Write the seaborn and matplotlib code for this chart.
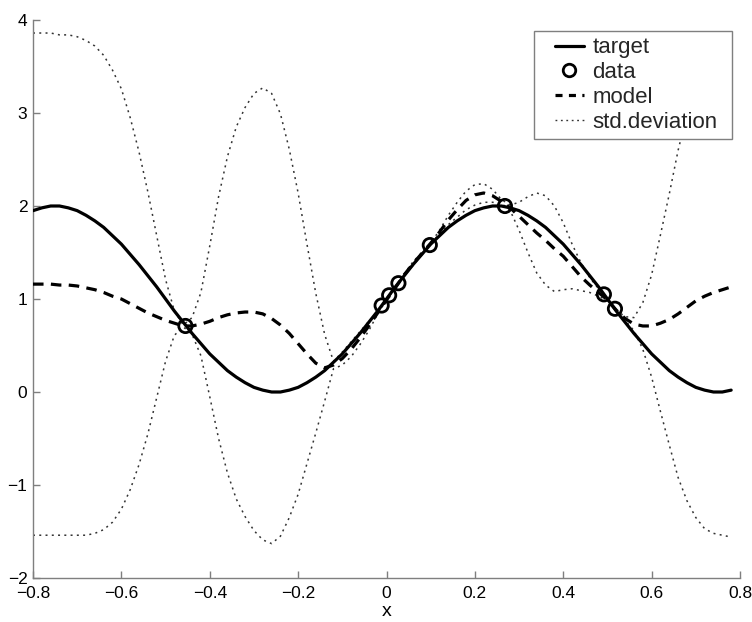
import numpy as np
import pandas as pd
import matplotlib
matplotlib.use("Agg")
import matplotlib.pyplot as plt
import seaborn as sns
from matplotlib.lines import Line2D
from matplotlib.legend_handler import HandlerLine2D

# ---------------- data ----------------
x_grid = np.linspace(-0.80, 0.78, 80)

target = [1.95, 1.98, 2.00, 2.00, 1.98, 1.95, 1.90, 1.84, 1.77, 1.68,
          1.59, 1.48, 1.37, 1.25, 1.13, 1.00, 0.87, 0.75, 0.63, 0.52,
          0.41, 0.32, 0.23, 0.16, 0.10, 0.05, 0.02, 0.00, 0.00, 0.02,
          0.05, 0.10, 0.16, 0.23, 0.32, 0.41, 0.52, 0.63, 0.75, 0.87,
          1.00, 1.13, 1.25, 1.37, 1.48, 1.59, 1.68, 1.77, 1.84, 1.90,
          1.95, 1.98, 2.00, 2.00, 1.98, 1.95, 1.90, 1.84, 1.77, 1.68,
          1.59, 1.48, 1.37, 1.25, 1.13, 1.00, 0.87, 0.75, 0.63, 0.52,
          0.41, 0.32, 0.23, 0.16, 0.10, 0.05, 0.02, 0.00, 0.00, 0.02]

model = [1.16, 1.16, 1.16, 1.15, 1.15, 1.14, 1.12, 1.10, 1.07, 1.03,
         1.00, 0.95, 0.90, 0.85, 0.81, 0.77, 0.74, 0.71, 0.71, 0.73,
         0.76, 0.80, 0.83, 0.85, 0.86, 0.86, 0.84, 0.79, 0.72, 0.63,
         0.52, 0.41, 0.31, 0.26, 0.29, 0.36, 0.46, 0.58, 0.71, 0.85,
         0.99, 1.12, 1.26, 1.38, 1.49, 1.60, 1.72, 1.85, 1.96, 2.06,
         2.12, 2.14, 2.11, 2.05, 1.98, 1.89, 1.80, 1.71, 1.63, 1.54,
         1.46, 1.35, 1.24, 1.15, 1.07, 0.99, 0.88, 0.79, 0.73, 0.71,
         0.71, 0.74, 0.78, 0.84, 0.91, 0.98, 1.03, 1.07, 1.10, 1.13]

# width of the std.deviation band (distance of each dotted curve from the model)
std_dev = [2.70, 2.70, 2.70, 2.69, 2.69, 2.68, 2.66, 2.62, 2.55, 2.43,
           2.26, 2.00, 1.68, 1.30, 0.87, 0.44, 0.13, 0.01, 0.09, 0.34,
           0.81, 1.30, 1.70, 2.00, 2.20, 2.35, 2.43, 2.42, 2.27, 1.98,
           1.62, 1.18, 0.75, 0.36, 0.04, 0.07, 0.08, 0.07, 0.05, 0.01,
           0.00, 0.00, 0.01, 0.02, 0.01, 0.00, 0.02, 0.05, 0.08, 0.10,
           0.11, 0.10, 0.07, 0.02, 0.03, 0.15, 0.30, 0.43, 0.48, 0.46,
           0.36, 0.24, 0.15, 0.08, 0.04, 0.01, 0.00, 0.02, 0.07, 0.25,
           0.55, 0.95, 1.35, 1.76, 2.08, 2.33, 2.50, 2.59, 2.64, 2.69]

data_x = [-0.455, -0.011, 0.006, 0.027, 0.098, 0.268, 0.492, 0.517]
data_y = [0.71, 0.93, 1.04, 1.17, 1.58, 2.00, 1.05, 0.895]

x_ticks = [-0.8, -0.6, -0.4, -0.2, 0, 0.2, 0.4, 0.6, 0.8]
x_tick_labels = ["\u22120.8", "\u22120.6", "\u22120.4", "\u22120.2", "0", "0.2", "0.4", "0.6", "0.8"]
y_ticks = [-2, -1, 0, 1, 2, 3, 4]
y_tick_labels = ["\u22122", "\u22121", "0", "1", "2", "3", "4"]
legend_labels = ["target", "data", "model", "std.deviation"]

df = pd.DataFrame({"x": x_grid, "target": target, "model": model, "sd": std_dev})
df["upper"] = df["model"] + df["sd"]
df["lower"] = df["model"] - df["sd"]

# ---------------- style ----------------
sns.set_theme(style="ticks")
plt.rcParams['font.family'] = ['Liberation Sans', 'DejaVu Sans']

fig = plt.figure(figsize=(7.52, 6.22), dpi=100)
ax = fig.add_axes([33 / 752, 1 - 578 / 622, 707 / 752, 558 / 622])

dot_color = "#333333"
dot_style = (0, (1.3, 2.8))
dash_style = (0, (3.3, 2.3))

sns.lineplot(data=df, x="x", y="target", ax=ax, color="black", linewidth=2.3,
             sort=False, legend=False, zorder=3)
sns.lineplot(data=df, x="x", y="model", ax=ax, color="black", linewidth=2.3,
             linestyle=dash_style, sort=False, legend=False, zorder=3)
sns.lineplot(data=df, x="x", y="upper", ax=ax, color=dot_color, linewidth=1.1,
             linestyle=dot_style, sort=False, legend=False, zorder=2)
sns.lineplot(data=df, x="x", y="lower", ax=ax, color=dot_color, linewidth=1.1,
             linestyle=dot_style, sort=False, legend=False, zorder=2)
sns.scatterplot(x=data_x, y=data_y, ax=ax, marker="o", s=92,
                facecolor="none", edgecolor="black", linewidth=2.0, zorder=4)

ax.set_xlim(-0.8, 0.8)
ax.set_ylim(-2, 4)
ax.set_xticks(x_ticks)
ax.set_xticklabels(x_tick_labels)
ax.set_yticks(y_ticks)
ax.set_yticklabels(y_tick_labels)
ax.set_xlabel("x", fontsize=14, labelpad=1, color="black")
ax.set_ylabel("")

spine_color = "#7f7f7f"
for side in ["top", "right"]:
    ax.spines[side].set_visible(False)
for side in ["left", "bottom"]:
    ax.spines[side].set_color(spine_color)
    ax.spines[side].set_linewidth(1.0)
ax.tick_params(axis="both", direction="in", length=5, width=1.0, color=spine_color,
               labelsize=12.5, labelcolor="black")
ax.tick_params(axis="x", pad=6)
ax.tick_params(axis="y", pad=4)

handles = [
    Line2D([], [], color="black", linewidth=2.3),
    Line2D([], [], color="black", linestyle="none", marker="o", markersize=9,
           markerfacecolor="none", markeredgewidth=2.0),
    Line2D([], [], color="black", linewidth=2.3, linestyle=(0, (2.2, 2.0))),
    Line2D([], [], color=dot_color, linewidth=1.0, linestyle=(0, (1.3, 2.6))),
]
leg_fs = 16
x0 = (533.7 - 33) / 707
x1 = (732 - 33) / 707
y_top = (578 - 30.7) / 558
leg = ax.legend(handles, legend_labels, loc="upper left",
                bbox_to_anchor=(x0, y_top - 0.3, x1 - x0, 0.3), mode="expand",
                borderaxespad=0,
                fontsize=leg_fs, frameon=True, fancybox=False, framealpha=1,
                edgecolor=spine_color, borderpad=0.3, labelspacing=0.17,
                handlelength=1.95, handletextpad=0.4,
                handler_map={Line2D: HandlerLine2D(xpad=0.65)})
leg.get_frame().set_linewidth(1.0)
leg.set_zorder(10)

fig.savefig("out.png", dpi=100)
